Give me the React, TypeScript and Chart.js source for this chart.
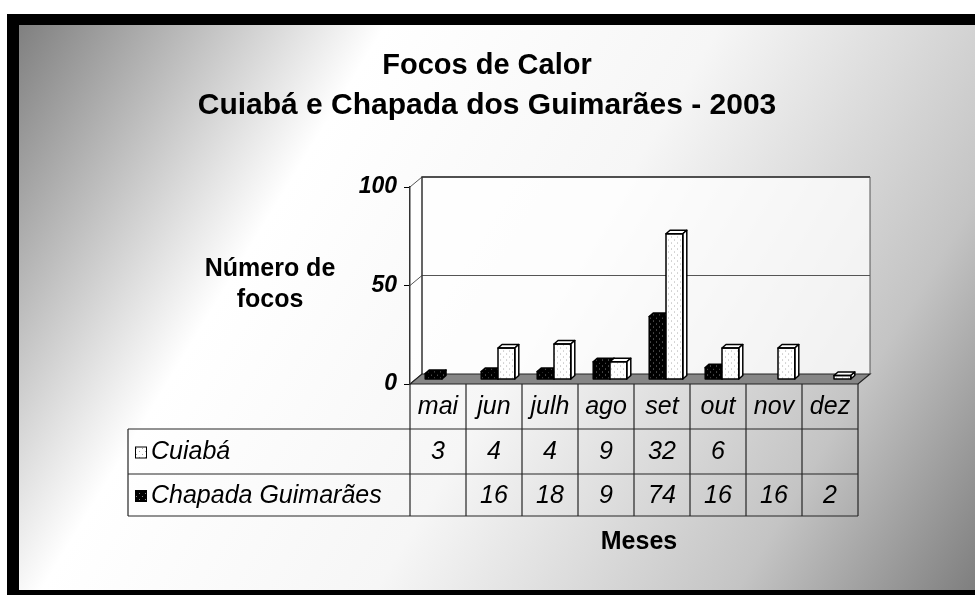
import React, { useEffect, useRef } from 'react';
import { Chart, registerables } from 'chart.js';

Chart.register(...registerables);

const categories = ['mai', 'jun', 'julh', 'ago', 'set', 'out', 'nov', 'dez'];
const cuiabaValues: (number | null)[] = [3, 4, 4, 9, 32, 6, null, null];
const chapadaValues: (number | null)[] = [null, 16, 18, 9, 74, 16, 16, 2];
const yTickValues = [0, 50, 100];
const titleLines = ['Focos de Calor', 'Cuiabá e Chapada dos Guimarães - 2003'];
const yTitleLines = ['Número de', 'focos'];
const xTitle = 'Meses';
const seriesNames = ['Cuiabá', 'Chapada Guimarães'];

const W = 975;
const H = 595;
const FONT = '"Liberation Sans", Arial, Helvetica, sans-serif';
const WALL_DX = 12;
const WALL_DY = -10;
const BAR_DX = 4;
const BAR_DY = -4.5;
const BAR_DEPTH_X = 4;
const BAR_DEPTH_Y = -3.5;
const TABLE_LEFT = 128;
const HEADER_H = 45;
const ROW1_H = 45;
const ROW2_H = 42;

function makePattern(ctx: CanvasRenderingContext2D, bg: string, dot: string) {
  const c = document.createElement('canvas');
  c.width = 6;
  c.height = 6;
  const g = c.getContext('2d')!;
  g.fillStyle = bg;
  g.fillRect(0, 0, 6, 6);
  g.fillStyle = dot;
  g.fillRect(1, 1, 1, 1);
  g.fillRect(4, 4, 1, 1);
  return ctx.createPattern(c, 'repeat')!;
}

export default function App() {
  const canvasRef = useRef<HTMLCanvasElement | null>(null);

  useEffect(() => {
    const canvas = canvasRef.current!;
    const ctx0 = canvas.getContext('2d')!;
    const darkPattern = makePattern(ctx0, '#000000', '#8c8c8c');
    const lightPattern = makePattern(ctx0, '#ffffff', '#a8a8a8');

    const backgroundPlugin = {
      id: 'background3d',
      beforeDraw(chart: any) {
        const ctx = chart.ctx as CanvasRenderingContext2D;
        const { left, right } = chart.chartArea;
        const ys = chart.scales.y;
        ctx.save();
        ctx.fillStyle = '#ffffff';
        ctx.fillRect(0, 0, W, H);
        ctx.fillStyle = '#000000';
        ctx.fillRect(7, 14, W - 7, H - 14);
        const grad = ctx.createLinearGradient(0, 0, W, H);
        grad.addColorStop(0, '#747474');
        grad.addColorStop(0.3, '#ffffff');
        grad.addColorStop(0.55, '#f6f6f6');
        grad.addColorStop(0.82, '#c4c4c4');
        grad.addColorStop(1, '#7e7e7e');
        ctx.fillStyle = grad;
        ctx.fillRect(19, 25, W - 19, 590 - 25);

        const y0 = ys.getPixelForValue(0);
        const yTop = ys.getPixelForValue(100);
        // back wall
        ctx.fillStyle = 'rgba(255,255,255,0.75)';
        ctx.fillRect(left + WALL_DX, yTop + WALL_DY, right - left, y0 - yTop);
        // side wall
        ctx.beginPath();
        ctx.moveTo(left, yTop);
        ctx.lineTo(left + WALL_DX, yTop + WALL_DY);
        ctx.lineTo(left + WALL_DX, y0 + WALL_DY);
        ctx.lineTo(left, y0);
        ctx.closePath();
        ctx.fill();

        // gridlines on walls
        ctx.strokeStyle = '#555555';
        ctx.lineWidth = 1;
        for (const v of yTickValues) {
          const yy = ys.getPixelForValue(v);
          ctx.beginPath();
          ctx.moveTo(left, yy);
          ctx.lineTo(left + WALL_DX, yy + WALL_DY);
          if (v !== 0) ctx.lineTo(right + WALL_DX, yy + WALL_DY);
          ctx.stroke();
        }
        // wall edges
        ctx.strokeStyle = '#333333';
        ctx.lineWidth = 1.5;
        ctx.beginPath();
        ctx.moveTo(left + WALL_DX, y0 + WALL_DY);
        ctx.lineTo(left + WALL_DX, yTop + WALL_DY);
        ctx.lineTo(right + WALL_DX, yTop + WALL_DY);
        ctx.stroke();
        ctx.strokeStyle = '#555555';
        ctx.lineWidth = 1;
        ctx.beginPath();
        ctx.moveTo(right + WALL_DX, yTop + WALL_DY);
        ctx.lineTo(right + WALL_DX, y0 + WALL_DY);
        ctx.stroke();

        // floor
        ctx.fillStyle = '#868686';
        ctx.beginPath();
        ctx.moveTo(left, y0);
        ctx.lineTo(left + WALL_DX, y0 + WALL_DY);
        ctx.lineTo(right + WALL_DX, y0 + WALL_DY);
        ctx.lineTo(right, y0);
        ctx.closePath();
        ctx.fill();
        ctx.strokeStyle = '#222222';
        ctx.lineWidth = 1.2;
        ctx.stroke();
        ctx.restore();
      },
    };

    const drawFaces = (ctx: CanvasRenderingContext2D, el: any, fillTop: any, fillSide: any) => {
      const p = el.getProps(['x', 'y', 'base', 'width'], true);
      const x1 = p.x - p.width / 2;
      const x2 = p.x + p.width / 2;
      const yt = p.y;
      const yb = p.base;
      ctx.lineWidth = 1.5;
      ctx.strokeStyle = '#000000';
      ctx.lineJoin = 'round';
      ctx.beginPath();
      ctx.moveTo(x1, yt);
      ctx.lineTo(x2, yt);
      ctx.lineTo(x2 + BAR_DEPTH_X, yt + BAR_DEPTH_Y);
      ctx.lineTo(x1 + BAR_DEPTH_X, yt + BAR_DEPTH_Y);
      ctx.closePath();
      ctx.fillStyle = fillTop;
      ctx.fill();
      ctx.stroke();
      ctx.beginPath();
      ctx.moveTo(x2, yt);
      ctx.lineTo(x2 + BAR_DEPTH_X, yt + BAR_DEPTH_Y);
      ctx.lineTo(x2 + BAR_DEPTH_X, yb + BAR_DEPTH_Y);
      ctx.lineTo(x2, yb);
      ctx.closePath();
      ctx.fillStyle = fillSide;
      ctx.fill();
      ctx.stroke();
      ctx.beginPath();
      ctx.rect(x1, yt, x2 - x1, yb - yt);
      ctx.stroke();
    };

    const barsPlugin = {
      id: 'bars3d',
      beforeDatasetsDraw(chart: any) {
        chart.ctx.save();
        chart.ctx.translate(BAR_DX, BAR_DY);
      },
      afterDatasetsDraw(chart: any) {
        const ctx = chart.ctx as CanvasRenderingContext2D;
        const m0 = chart.getDatasetMeta(0);
        const m1 = chart.getDatasetMeta(1);
        for (let i = 0; i < categories.length; i++) {
          if (cuiabaValues[i] != null) {
            drawFaces(ctx, m0.data[i], darkPattern, darkPattern);
          }
          if (chapadaValues[i] != null) {
            m1.data[i].draw(ctx, chart.chartArea);
            drawFaces(ctx, m1.data[i], '#ffffff', '#ffffff');
          }
        }
        ctx.restore();
      },
    };

    const tablePlugin = {
      id: 'dataTable',
      afterDraw(chart: any) {
        const ctx = chart.ctx as CanvasRenderingContext2D;
        const xs = chart.scales.x;
        const ys = chart.scales.y;
        const { left, right } = chart.chartArea;
        const cw = (right - left) / categories.length;
        const top = ys.getPixelForValue(0);
        const r1 = top + HEADER_H;
        const r2 = r1 + ROW1_H;
        const r3 = r2 + ROW2_H;
        ctx.save();
        ctx.strokeStyle = '#262626';
        ctx.lineWidth = 1.2;
        ctx.beginPath();
        for (let i = 0; i <= categories.length; i++) {
          const xx = left + i * cw;
          ctx.moveTo(xx, top);
          ctx.lineTo(xx, r3);
        }
        ctx.moveTo(TABLE_LEFT, r1);
        ctx.lineTo(TABLE_LEFT, r3);
        for (const yy of [r1, r2, r3]) {
          ctx.moveTo(TABLE_LEFT, yy);
          ctx.lineTo(right, yy);
        }
        ctx.stroke();

        ctx.fillStyle = '#000';
        ctx.font = `italic 25px ${FONT}`;
        ctx.textAlign = 'center';
        ctx.textBaseline = 'middle';
        const hMid = (top + r1) / 2 + 1;
        const m1 = (r1 + r2) / 2 + 1;
        const m2 = (r2 + r3) / 2 + 1;
        categories.forEach((c, i) => {
          const cx = xs.getPixelForValue(i);
          ctx.fillText(c, cx, hMid);
          const a = cuiabaValues[i];
          const b = chapadaValues[i];
          if (a != null) ctx.fillText(String(a), cx, m1);
          if (b != null) ctx.fillText(String(b), cx, m2);
        });
        // legend keys
        const keys = [lightPattern, darkPattern];
        [m1, m2].forEach((my, k) => {
          ctx.fillStyle = keys[k];
          ctx.fillRect(TABLE_LEFT + 7, my - 6, 12, 12);
          ctx.strokeStyle = '#000';
          ctx.lineWidth = 1;
          ctx.strokeRect(TABLE_LEFT + 7.5, my - 5.5, 11, 11);
          ctx.fillStyle = '#000';
          ctx.textAlign = 'left';
          ctx.fillText(seriesNames[k], TABLE_LEFT + 23, my);
        });

        // titles
        ctx.textAlign = 'center';
        ctx.font = `bold 29px ${FONT}`;
        ctx.fillText(titleLines[0], 487, 66);
        ctx.font = `bold 30px ${FONT}`;
        ctx.fillText(titleLines[1], 487, 106);
        ctx.font = `bold 25px ${FONT}`;
        ctx.textBaseline = 'alphabetic';
        ctx.fillText(yTitleLines[0], 270, 276);
        ctx.fillText(yTitleLines[1], 270, 307);
        ctx.textBaseline = 'middle';
        ctx.fillText(xTitle, 639, 542);
        ctx.restore();
      },
    };

    const chart = new Chart(canvas, {
      type: 'bar',
      data: {
        labels: categories,
        datasets: [
          {
            label: seriesNames[0],
            data: cuiabaValues,
            backgroundColor: darkPattern,
            borderColor: '#000000',
            borderWidth: 0,
            categoryPercentage: 0.6,
            barPercentage: 1,
          },
          {
            label: seriesNames[1],
            data: chapadaValues,
            backgroundColor: lightPattern,
            borderColor: '#000000',
            borderWidth: 0,
            categoryPercentage: 0.6,
            barPercentage: 1,
          },
        ],
      },
      options: {
        responsive: false,
        animation: false,
        devicePixelRatio: 1,
        layout: { padding: { left: 0, right: 117, top: 187, bottom: 211 } },
        plugins: {
          legend: { display: false },
          title: { display: false },
          tooltip: { enabled: false },
        },
        scales: {
          x: { display: false, offset: true },
          y: {
            min: 0,
            max: 100,
            afterBuildTicks: (s: any) => {
              s.ticks = yTickValues.map((v) => ({ value: v }));
            },
            ticks: {
              font: { family: FONT, size: 23, weight: 'bold', style: 'italic' },
              color: '#000000',
              padding: 7,
            },
            grid: { drawOnChartArea: false, drawTicks: true, tickLength: 6, color: '#000000', lineWidth: 1 },
            border: { display: true, color: '#333333', width: 1.5 },
            afterFit: (s: any) => {
              s.width = 410;
            },
          },
        },
      } as any,
      plugins: [backgroundPlugin, barsPlugin, tablePlugin],
    });
    return () => chart.destroy();
  }, []);

  return (
    <div style={{ position: 'fixed', left: 0, top: 0, width: W, height: H }}>
      <canvas ref={canvasRef} width={W} height={H} style={{ width: W, height: H, display: 'block' }} />
    </div>
  );
}
